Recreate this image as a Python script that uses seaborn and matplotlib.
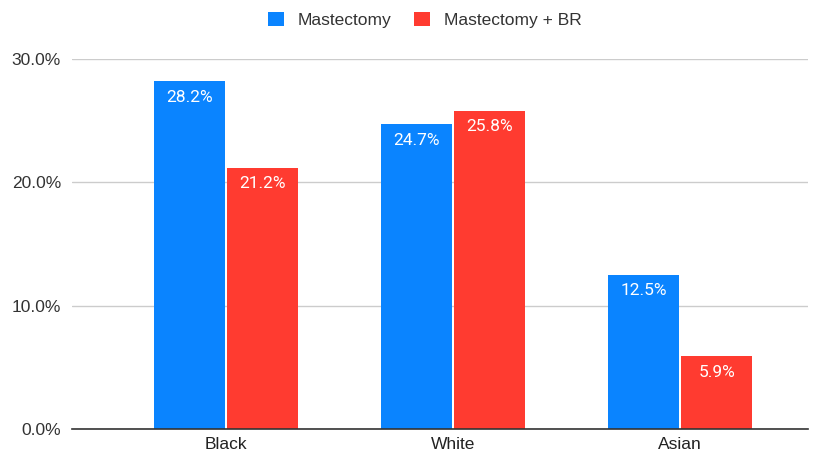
import matplotlib
matplotlib.use("Agg")
import matplotlib.pyplot as plt
import matplotlib.patches as mpatches
import seaborn as sns
import pandas as pd

categories = ["Black", "White", "Asian"]
series_names = ["Mastectomy", "Mastectomy + BR"]
mastectomy = [28.2, 24.7, 12.5]
mastectomy_br = [21.2, 25.8, 5.9]
y_ticks = [0, 10, 20, 30]
y_tick_labels = ["0.0%", "10.0%", "20.0%", "30.0%"]

colors = ["#0A84FF", "#FF3B30"]

df = pd.DataFrame({
    "group": categories * 2,
    "series": [series_names[0]] * 3 + [series_names[1]] * 3,
    "value": mastectomy + mastectomy_br,
})

sns.set_style("white")
plt.rcParams["font.family"] = ["Liberation Sans", "DejaVu Sans"]

fig = plt.figure(figsize=(8.2, 4.55), dpi=100)
ax = fig.add_axes([72/820, 1-429/455, (808-72)/820, (429-59)/455])

sns.barplot(data=df, x="group", y="value", hue="series", order=categories,
            hue_order=series_names, palette=colors, width=0.645, gap=0.035,
            ax=ax, legend=False, saturation=1, linewidth=0)

for c in ax.containers:
    for bar in c:
        h = bar.get_height()
        ax.annotate(f"{h:.1f}%", (bar.get_x() + bar.get_width()/2, h),
                    xytext=(0, -6), textcoords="offset points",
                    ha="center", va="top", color="white", fontsize=12.5,
                    family=["Roboto", "DejaVu Sans"])

ax.set_ylim(0, 30)
ax.set_xlim(-0.678, 2.564)
ax.set_yticks(y_ticks)
ax.set_yticklabels(y_tick_labels, fontsize=12.5, color="#333333")
ax.tick_params(axis="x", labelsize=12.5, colors="#222222", length=0, pad=6)
ax.tick_params(axis="y", length=0, pad=8)
ax.set_xlabel("")
ax.set_ylabel("")
ax.grid(axis="y", color="#cccccc", linewidth=1)
ax.set_axisbelow(True)
for s in ["left", "right", "top"]:
    ax.spines[s].set_visible(False)
ax.spines["bottom"].set_color("#333333")
ax.spines["bottom"].set_linewidth(1.2)

handles = [mpatches.Patch(facecolor=colors[i], edgecolor="none", label=series_names[i]) for i in range(2)]
fig.legend(handles=handles, loc="center", bbox_to_anchor=(0.518, 1-20/455), ncol=2,
           frameon=False, fontsize=12.5, handlelength=0.9, handleheight=0.9,
           handletextpad=0.8, columnspacing=1.3, labelcolor="#333333")

fig.savefig("out.png", dpi=100, facecolor="white")
